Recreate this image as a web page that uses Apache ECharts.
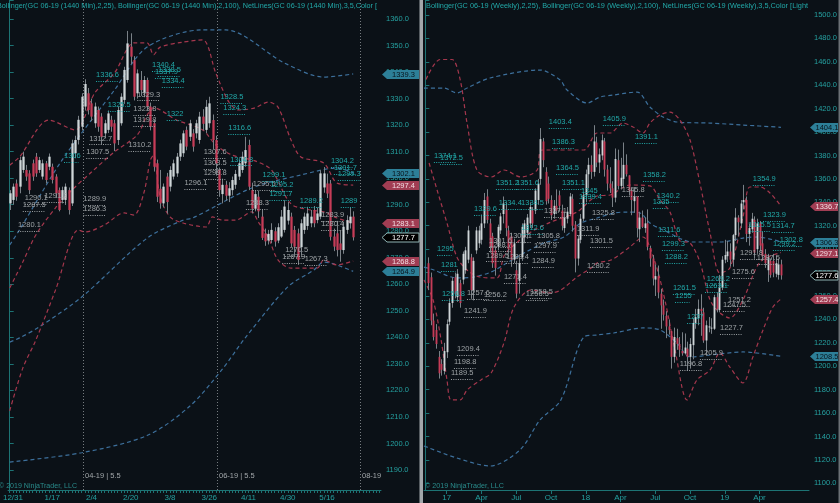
<!DOCTYPE html>
<html><head><meta charset="utf-8">
<script src="https://cdn.jsdelivr.net/npm/echarts/dist/echarts.min.js"></script>
<style>html,body{margin:0;padding:0;background:#0b1117;}#c{width:840px;height:503px;}</style>
</head><body><div id="c"></div>
<script>
// ---------------- DATA ----------------
const leftXLabels = [[1,'12/31'],[13,'1/17'],[25,'2/4'],[37,'2/20'],[49,'3/8'],[61,'3/26'],[73,'4/11'],[85,'4/30'],[97,'5/16']];
const rightXLabels = [[8,'17'],[21,'Apr'],[34,'Jul'],[47,'Oct'],[60,'18'],[73,'Apr'],[86,'Jul'],[99,'Oct'],[112,'19'],[125,'Apr']];
const LEFT_SLOTS = 114, RIGHT_SLOTS = 144;

const leftOpen = [1290.5,1291.8,1298.0,1296.8,1303.1,1303.1,1301.8,1305.6,1308.1,1303.1,1300.6,1305.6,1304.3,1304.3,1300.6,1295.5,1291.8,1291.8,1295.5,1290.5,1309.4,1314.4,1319.4,1327.0,1332.0,1328.2,1320.7,1325.7,1323.2,1316.9,1318.2,1322.0,1320.7,1314.4,1320.7,1329.5,1337.0,1349.6,1344.5,1332.0,1337.0,1332.0,1337.0,1327.0,1320.7,1305.6,1296.0,1290.5,1300.6,1296.8,1300.6,1301.8,1308.1,1309.4,1318.2,1315.6,1316.9,1316.9,1314.4,1323.2,1318.2,1320.7,1321.9,1314.4,1303.1,1294.0,1297.5,1293.4,1295.5,1297.5,1300.6,1303.1,1305.6,1312.5,1295.5,1288.5,1293.0,1285.5,1279.2,1276.5,1276.7,1280.0,1276.5,1278.0,1280.5,1284.0,1285.5,1280.5,1279.2,1274.0,1280.5,1282.0,1283.0,1288.0,1284.2,1285.5,1296.5,1298.0,1298.0,1278.0,1279.2,1275.4,1272.9,1280.5,1283.0,1285.5];
const leftHigh = [1295.5,1298.0,1299.5,1308.1,1310.0,1305.0,1303.0,1307.0,1309.5,1308.0,1307.0,1306.5,1309.3,1305.5,1301.5,1296.5,1296.8,1298.0,1296.5,1314.5,1316.0,1323.5,1332.0,1337.3,1334.0,1330.0,1328.5,1327.0,1324.5,1322.0,1325.5,1323.5,1322.0,1327.0,1332.0,1342.0,1355.5,1354.6,1346.0,1341.0,1340.4,1338.5,1337.9,1328.5,1322.0,1307.0,1303.1,1298.0,1302.0,1304.5,1307.0,1309.5,1314.5,1318.0,1319.5,1322.0,1318.5,1322.0,1325.0,1326.0,1329.5,1330.7,1324.0,1316.0,1304.0,1299.8,1299.0,1298.5,1300.6,1303.1,1307.0,1310.0,1315.6,1314.5,1298.3,1295.5,1295.2,1288.0,1281.0,1280.5,1283.0,1281.5,1283.0,1288.0,1291.7,1291.0,1287.0,1282.0,1281.0,1284.5,1287.0,1289.2,1288.0,1289.5,1289.0,1303.0,1304.2,1301.7,1299.3,1281.0,1283.9,1280.4,1283.5,1286.0,1289.0,1287.5];
const leftLow = [1288.0,1290.0,1291.5,1294.3,1302.0,1299.0,1294.0,1299.0,1300.5,1302.0,1299.5,1298.0,1303.0,1298.0,1292.5,1287.5,1290.5,1289.9,1286.3,1289.5,1307.5,1312.7,1318.0,1325.5,1324.0,1321.5,1319.0,1317.5,1312.7,1315.0,1317.0,1317.5,1310.2,1312.5,1319.8,1328.0,1336.0,1343.0,1329.3,1330.0,1331.0,1330.5,1325.5,1318.0,1302.5,1291.0,1288.5,1289.0,1286.7,1295.0,1299.5,1300.5,1306.5,1308.0,1310.5,1314.0,1310.0,1315.0,1313.0,1318.0,1317.0,1319.0,1311.0,1301.0,1293.0,1290.5,1291.5,1291.0,1293.5,1296.0,1299.3,1302.0,1304.3,1295.5,1286.7,1287.5,1285.0,1276.7,1274.5,1275.0,1275.5,1274.2,1275.5,1277.5,1279.5,1282.5,1274.0,1270.5,1267.3,1271.0,1279.0,1280.5,1281.5,1281.5,1283.0,1284.5,1294.5,1292.5,1276.5,1272.5,1270.5,1268.5,1271.5,1279.0,1281.0,1276.5];
const leftClose = [1294.3,1296.8,1293.0,1306.8,1308.1,1300.6,1295.5,1300.6,1301.8,1306.8,1305.6,1299.3,1308.1,1299.3,1294.3,1288.0,1295.5,1296.8,1288.0,1313.1,1314.4,1322.0,1330.7,1335.5,1325.7,1323.2,1327.0,1319.4,1315.6,1320.7,1324.4,1319.4,1313.1,1325.7,1330.7,1340.8,1350.8,1345.8,1330.7,1339.5,1333.2,1337.0,1327.0,1319.4,1304.3,1293.0,1290.5,1296.8,1291.0,1303.1,1305.6,1308.1,1313.1,1316.9,1311.9,1320.7,1311.9,1320.7,1323.2,1320.5,1326.9,1328.2,1314.4,1305.6,1295.5,1297.5,1293.4,1296.2,1299.3,1301.6,1305.6,1308.1,1310.6,1296.8,1288.5,1294.0,1287.5,1277.5,1276.2,1279.0,1280.5,1276.1,1281.5,1285.5,1289.3,1288.0,1275.4,1274.2,1269.2,1283.0,1285.5,1286.7,1285.5,1283.0,1286.7,1301.8,1301.8,1294.2,1277.9,1274.2,1272.9,1273.0,1281.7,1284.2,1285.5,1277.7];

// Bollinger bands of the daily chart, read as [bar, value]
const leftUpper25 = [[0,1304.9],[3,1308.0],[12,1321.9],[20,1318.2],[26,1332.1],[32,1339.6],[38,1351.0],[42,1351.0],[44,1346.5],[46,1349.4],[53,1351.3],[59,1352.1],[63,1339.6],[67,1328.7],[70,1325.7],[75,1326.5],[79,1328.7],[82,1326.8],[86,1314.4],[89,1308.0],[96,1305.7],[100,1298.2],[105,1297.4]];
const leftMid25 = [[0,1258.6],[4,1268.4],[8,1278.6],[14,1288.8],[19,1295.5],[25,1302.3],[32,1309.9],[39,1316.3],[42,1323.8],[44,1326.5],[51,1321.9],[59,1318.2],[63,1312.5],[68,1308.7],[75,1306.5],[80,1303.1],[86,1290.3],[92,1288.0],[96,1287.3],[100,1285.0],[105,1283.1]];
const leftLower25 = [[0,1212.3],[4,1228.4],[8,1239.0],[14,1257.8],[21,1280.5],[23,1279.7],[29,1282.4],[35,1286.9],[38,1286.1],[41,1294.4],[43,1306.8],[44,1308.7],[46,1292.9],[49,1285.4],[53,1283.1],[60,1281.6],[62,1285.4],[65,1284.2],[69,1284.2],[74,1287.3],[76,1283.5],[79,1277.8],[82,1269.2],[86,1266.1],[94,1266.1],[96,1269.2],[100,1267.3],[105,1268.8]];
const leftUpper100 = [[0,1274.8],[3,1280.5],[16,1306.8],[32,1333.2],[42,1349.4],[59,1355.9],[66,1355.9],[84,1343.4],[96,1338.1],[105,1339.3]];
const leftMid100 = [[0,1238.2],[3,1239.8],[9,1243.9],[22,1255.2],[42,1277.4],[53,1284.2],[56,1285.0],[74,1296.3],[89,1301.2],[100,1303.8],[105,1302.1]];
const leftLower100 = [[0,1193.0],[22,1196.5],[42,1203.0],[55,1214.0],[65,1228.0],[72,1239.8],[85,1259.0],[93,1265.4],[96,1268.4],[105,1264.9]];

// NetLines swing labels of the daily chart: [bar, level, 1 = swing high / 0 = swing low]
const leftSwings = [[2.5,1280.1,0],[4,1287.5,0],[4.6,1290.1,0],[10.6,1291.2,0],[16.6,1306,1],[22.5,1289.9,0],[22.5,1286.3,0],[23.4,1307.5,0],[24.3,1312.7,0],[26.4,1336.6,1],[30,1325.5,1],[36.3,1310.2,0],[37.8,1323.8,0],[37.8,1319.8,0],[39,1329.3,0],[43.5,1340.4,1],[44.4,1337.9,1],[45.3,1338.5,1],[46.5,1334.4,1],[48,1322,1],[53.4,1296.1,0],[59.3,1307.6,0],[59.3,1303.5,0],[59.3,1299.8,0],[64.4,1328.5,1],[65.3,1324.3,1],[66.8,1316.6,1],[67.4,1304.8,1],[72.2,1288.3,0],[74.3,1295.5,0],[77.3,1299.1,1],[79.7,1295.2,1],[79.4,1291.7,1],[83.3,1267.9,0],[84.2,1270.5,0],[88.7,1289.2,1],[90.2,1267.3,0],[95.2,1283.9,0],[95.2,1280.4,0],[98.2,1304.2,1],[99.1,1301.7,1],[100.3,1299.3,1],[101.2,1289,1]];
const leftRollovers = [[22.54,'04-19 | 5.5'],[63.23,'06-19 | 5.5'],[107.22,'08-19']];

const rightOpen = [null,1288,1276,1239,1231,1208,1202,1196,1212,1238,1254,1276,1259,1271,1274,1282,1291,1293,1265,1299,1305,1308,1322,1345,1322,1311,1299,1302,1316,1330,1334,1316,1311,1291,1282,1273,1293,1310,1314,1322,1333,1333,1342,1360,1392,1366,1356,1342,1330,1337,1346,1333,1318,1326,1330,1343,1321,1292,1308,1326,1346,1364,1372,1366,1391,1374,1380,1392,1368,1356,1352,1344,1376,1354,1360,1372,1363,1350,1341,1345,1317,1327,1318,1322,1301,1292,1274,1277,1262,1252,1243,1234,1230,1208,1224,1219,1213,1211,1215,1208,1218,1237,1241,1249,1246,1222,1234,1233,1232,1259,1248,1267,1291,1294,1298,1291,1312,1327,1322,1340,1342,1313,1317,1325,1300,1322,1305,1296,1282,1290,1290,1279,1278,1287];
const rightHigh = [null,1293,1280,1245,1236,1213,1206,1220,1240,1258,1276,1280,1283,1274,1298,1302,1320,1296,1293,1319,1320,1329.6,1348,1351.2,1326,1314,1302,1321,1331,1345,1340,1320,1314,1309,1290,1292,1322,1325,1330,1340,1336,1352,1360,1403.4,1395,1370,1362,1346,1342,1351.1,1350,1338,1332,1336,1348,1347,1324,1312,1330,1349,1368,1378,1380,1405.9,1396,1386,1398,1395,1372,1370,1358,1386,1385,1378,1391.1,1381,1363,1353,1353,1345,1332,1333,1327,1334,1303,1295,1287,1286,1266,1257,1247,1240,1230,1233,1232,1225,1229,1228,1221,1224,1241,1249,1257,1261.5,1250,1239,1242,1241,1261,1263,1278,1294,1308,1307,1305,1313,1335,1329,1342,1354.9,1345,1322,1331,1328,1326,1324,1314.7,1300,1296,1292,1296,1294,1292,1291];
const rightLow = [null,1265,1235,1222,1215,1189.5,1192,1193,1207,1235,1250,1258,1255,1250,1270,1279,1288,1257.6,1256.2,1296,1301,1304,1318,1322,1297,1284,1277.4,1299,1313,1322,1311,1296,1284.9,1288,1258,1262,1290,1305,1309,1318,1318,1330,1338,1355,1370,1338,1339,1325,1326,1330,1332,1316,1314,1322,1328,1315,1280.2,1286,1305,1324,1340,1352,1360,1362,1370,1365,1376,1362,1350,1348,1336,1340,1351,1351,1353,1362,1345.8,1329,1331,1310,1306,1318,1314,1299,1285,1269,1260,1258,1232,1239,1224,1227,1198,1203,1214,1208,1209,1210,1196,1198,1205.9,1232,1235,1226,1220,1209,1229,1227.7,1231,1246,1246,1265,1288,1289,1285,1285,1307,1311,1318,1334,1306,1303,1314,1291.8,1296,1298,1290,1284,1272,1275.6,1276,1276,1274,1274];
const rightClose = [null,1271,1239,1225,1219,1194,1197,1213,1236,1254,1273,1262,1279,1254,1296,1299,1316,1265,1290,1316,1316,1322,1342,1325,1302,1288,1284,1319,1328,1339,1318,1300,1291,1305,1262,1288,1319,1322,1327,1336,1322,1350,1356,1394,1376,1341,1343,1329,1337,1333,1337,1320,1327,1332,1345,1320,1292,1309,1326,1346,1364,1372,1366,1392,1374,1381,1393,1368,1356,1352,1344,1377,1354,1361,1372,1364,1350,1342,1345,1318,1327,1319,1322,1302,1292,1275,1277,1263,1252,1244,1234,1231,1208,1225,1219,1214,1211,1216,1208,1219,1237,1242,1249,1247,1222,1235,1234,1233,1259,1249,1267,1291,1295,1298,1291,1312,1327,1323,1339,1342,1313,1318,1326,1297,1322,1303,1294,1288,1293,1278,1280,1288,1287,1277.6];

// Bollinger bands of the weekly chart, read as [bar, value]
const rightUpper25 = [[0.25,1445],[5.5,1462],[10,1462],[13,1445],[15.6,1407.7],[19.3,1367.6],[24.6,1361.6],[29.4,1367.6],[35.8,1361.6],[41.8,1367.6],[43.6,1384.7],[59.3,1384.7],[64.2,1399.2],[69.1,1399.2],[73.9,1407.7],[77.7,1404.3],[81.4,1399.2],[84,1407.7],[87.8,1414.6],[91.5,1417.1],[95.2,1410.3],[99,1393.2],[102.7,1356.5],[106.5,1313.8],[110.2,1279.6],[113.9,1283.9],[118.8,1327.5],[121.4,1353.1],[125.2,1353.1],[128.9,1348.0],[133,1336.7]];
const rightMid25 = [[1.4,1373.6],[4.4,1350.5],[8.1,1322.3],[11.8,1293.3],[15.6,1282.2],[20.4,1276.2],[26.8,1275.4],[29.4,1294.2],[33.2,1303.6],[39.5,1314.7],[47,1323.2],[56.7,1331.7],[64.2,1345.4],[69.1,1346.3],[76.5,1354.8],[84,1354.0],[87.8,1342.0],[91.5,1331.7],[95.2,1307.0],[99,1305.3],[102.7,1289.0],[106.5,1256.6],[110.2,1245.5],[113.9,1241.2],[118.8,1256.6],[125.2,1289.0],[133,1297.1]];
const rightLower25 = [[-0.5,1273.7],[2.9,1256.6],[5.9,1222.4],[8.1,1188.3],[9.6,1171.2],[13,1171.2],[15.6,1179.7],[20.8,1188.3],[24.6,1194.2],[29.4,1219.9],[33.2,1250.6],[39.5,1265.1],[47,1262.6],[50.7,1265.1],[56.7,1276.2],[62,1283.9],[64.2,1288.2],[69.4,1290.7],[76.5,1301.8],[81.4,1310.4],[85.9,1289.0],[89.6,1256.6],[93.4,1213.9],[97.9,1171.2],[101.6,1188.3],[106.5,1196.8],[110.2,1211.3],[113.9,1199.3],[118.8,1185.7],[122.5,1207.9],[126.3,1231.0],[130,1250.6],[133,1257.4]];
const rightUpper100 = [[-0.5,1437.6],[7,1437.6],[11.8,1433.4],[15.6,1437.6],[24.2,1446.2],[42.9,1453.0],[50.4,1444.5],[53,1435.9],[60.5,1424.8],[65.3,1429.9],[70.5,1431.7],[79.2,1434.2],[84,1421.4],[88.9,1412.9],[94.1,1408.6],[106.5,1407.7],[118.8,1406.0],[133,1404.1]];
const rightMid100 = [[-0.5,1284.7],[3.2,1282.2],[11.8,1275.4],[18.2,1276.2],[24.6,1280.5],[30.5,1288.2],[36.9,1296.7],[44.4,1305.3],[51.9,1310.4],[58.2,1322.3],[64.2,1326.6],[70.6,1330.9],[75.4,1331.7],[80.3,1330.9],[84,1322.3],[88.9,1316.4],[100.1,1306.1],[110.2,1306.1],[118.8,1309.5],[124,1310.4],[133,1306.3]];
const rightLower100 = [[-0.5,1131.9],[11.8,1121.6],[24.2,1114.8],[35.4,1128.5],[42.9,1154.1],[50.7,1171.2],[59.3,1225.0],[64.2,1226.7],[70.5,1228.4],[81.4,1232.7],[87.8,1231.0],[94.1,1219.8],[99,1207.9],[106.5,1209.6],[118.8,1212.2],[133,1208.5]];

// NetLines swing labels of the weekly chart
const rightSwings = [[3.2,1374.1,1],[5.5,1372.5,1],[4.4,1295,1],[5.9,1281,1],[6.2,1256.8,1],[9.6,1189.5,0],[10.7,1198.8,0],[11.8,1209.4,0],[14.5,1241.9,0],[15.6,1257.6,0],[21.9,1256.2,0],[18.2,1329.6,1],[26.4,1351.2,1],[33.9,1351.6,1],[27.5,1334.4,1],[35.8,1334.5,1],[23.8,1301.6,0],[23.8,1298.7,0],[31.3,1306.1,0],[35.8,1312.6,1],[22.7,1289.5,0],[30.2,1288.4,0],[39.9,1284.9,0],[29.4,1271.4,0],[37.6,1256.5,0],[39.1,1258.5,0],[46.2,1403.4,1],[47.4,1386.3,1],[48.9,1364.5,1],[51.1,1351.1,1],[58.2,1345,1],[57.5,1339.4,1],[62.3,1325.8,0],[44.4,1327.1,0],[41.8,1305.8,0],[40.6,1297.9,0],[56.7,1311.9,0],[61.6,1301.5,0],[60.5,1280.2,0],[66.4,1405.9,1],[78.4,1391.1,1],[81.4,1358.2,1],[73.5,1345.8,0],[86.6,1340.2,1],[85.1,1335,1],[87,1311.6,1],[88.5,1299.3,1],[89.6,1288.2,1],[92.6,1261.5,1],[93.4,1255,1],[97.9,1237,1],[105.3,1269.2,1],[104.6,1263.1,1],[113.2,1251.2,0],[111.3,1247.5,0],[110.2,1227.7,0],[102.7,1205.9,0],[95.2,1196.8,0],[122.5,1354.9,1],[126.3,1323.9,1],[120.7,1315.5,1],[129.6,1314.7,1],[117.7,1291.8,0],[124,1287.5,0],[114.7,1275.6,0],[130,1299.2,1],[132.6,1302.8,1]];

const leftHeader = 'Bollinger(GC 06-19 (1440 Min),2,25), Bollinger(GC 06-19 (1440 Min),2,100), NetLines(GC 06-19 (1440 Min),3,5,Color [';
const rightHeader = 'Bollinger(GC 06-19 (Weekly),2,25), Bollinger(GC 06-19 (Weekly),2,100), NetLines(GC 06-19 (Weekly),3,5,Color [Light';
const copyright = '\u00a9 2019 NinjaTrader, LLC';

// ---------------- STYLE ----------------
const BG = '#0b1117';
const FONT = '"Liberation Sans", Arial, sans-serif';
const FS = 7.5;
const AXIS = '#1d7374', LBL = '#25a0a0', TEAL = '#22a9a9', GREY = '#9ea3a6';
const UP = '#cfd6d8', DN = '#c63c57', WICK = '#7a8187';
const RED = '#a5374d', BLUE = '#3d709c';
const BOXB = '#2d7f98', BOXR = '#a13d53';

const LMIN = 1182.46, LMAX = 1367.16;
const RMIN = 1094.3, RMAX = 1512.81;

const measureCtx = document.createElement('canvas').getContext('2d');
function fitScale(text, font, target){ measureCtx.font = font; return target / measureCtx.measureText(text).width; }

function cats(n, labels){ const a = new Array(n).fill(''); labels.forEach(l => a[l[0]] = l[1]); return a; }
function fmtSwing(v){ return Number.isInteger(v) ? String(v) : v.toFixed(1); }
function candles(o,h,l,c){ const d=[]; o.forEach((v,i)=>{ if(v!=null) d.push([i,v,c[i],l[i],h[i]]); }); return d; }

function candleItem(params, api){
  const i = api.value(0), o = api.value(1), c = api.value(2), lo = api.value(3), hi = api.value(4);
  const po = api.coord([i,o]), pc = api.coord([i,c]), pl = api.coord([i,lo]), ph = api.coord([i,hi]);
  const slot = api.size([1,0])[0];
  const bw = Math.max(1.6, slot*0.7);
  const x = Math.round(po[0]) + 0.5;
  const top = Math.min(po[1],pc[1]), bot = Math.max(po[1],pc[1]);
  return {type:'group', children:[
    {type:'line', shape:{x1:x,y1:ph[1],x2:x,y2:pl[1]}, style:{stroke:WICK, lineWidth:1}},
    {type:'rect', shape:{x:x-bw/2, y:top, width:bw, height:Math.max(1,bot-top)}, style:{fill: c>=o?UP:DN}}
  ]};
}
function swingItem(params, api){
  const v = api.value(1), k = api.value(2);
  const p = api.coord([api.value(0), v]);
  const t = fmtSwing(v), col = k===1 ? TEAL : GREY;
  const w = t.length*3.6;
  return {type:'group', children:[
    {type:'text', style:{x:p[0], y:p[1]-2, text:t, fill:col, font:FS+'px '+FONT, verticalAlign:'bottom'}},
    {type:'line', shape:{x1:p[0], y1:Math.round(p[1])+0.5, x2:p[0]+w, y2:Math.round(p[1])+0.5}, style:{stroke:col, lineWidth:1, lineDash:[1,1.3]}}
  ]};
}
function markerItem(params, api){
  const v = api.value(1), k = api.value(2);
  const y = Math.round(api.coord([0, v])[1]) + 0.5;
  const cs = params.coordSys; const ax = cs.x + cs.width;
  const fills = [BOXB, BOXR, '#000000'], txt = ['#08141c', '#f3dde3', '#ffffff'], strokes = [BOXB, BOXR, '#8fb3b3'];
  const L = ax+1, B = ax+6, R = Math.min(ax+38, 838), hh = 4.5;
  return {type:'group', children:[
    {type:'polygon', shape:{points:[[L,y],[B,y-hh],[R,y-hh],[R,y+hh],[B,y+hh]]}, style:{fill:fills[k], stroke:strokes[k], lineWidth:k===2?1:0}},
    {type:'text', style:{x:(B+R)/2+0.5, y:y, text:v.toFixed(1), fill:txt[k], font:FS+'px '+FONT, align:'center', verticalAlign:'middle'}}
  ]};
}
function band(data, color, xi, yi){
  return {type:'line', xAxisIndex:xi, yAxisIndex:yi, data:data, showSymbol:false, symbol:'none', smooth:0.3,
    lineStyle:{color:color, width:1.2, type:[4,3]}, silent:true, z:2};
}
function yAxisCfg(gi, min, max, step, n){
  return {type:'value', gridIndex:gi, position:'right', min:min, max:max, minInterval:step, maxInterval:step, splitNumber:n,
    axisLine:{show:true, lineStyle:{color:AXIS, width:1}}, axisTick:{show:true, length:4, lineStyle:{color:AXIS}},
    splitLine:{show:false},
    axisLabel:{color:LBL, fontSize:FS, fontFamily:FONT, margin:5, showMinLabel:true, showMaxLabel:true,
      formatter:v => Math.abs(v/step - Math.round(v/step)) < 1e-6 ? v.toFixed(1) : ''}};
}
function xCatCfg(gi, data, allTicks){
  return {type:'category', gridIndex:gi, data:data, boundaryGap:true,
    axisLine:{show:true, lineStyle:{color:AXIS}},
    axisTick:{show:true, alignWithLabel:true, length:allTicks?3:4, interval: allTicks ? 0 : ((i,v)=>v!==''), lineStyle:{color:AXIS}},
    axisLabel:{interval:0, color:LBL, fontSize:FS+0.5, fontFamily:FONT, margin:4, hideOverlap:false},
    splitLine:{show:false}};
}
function markers(u25,m25,l25,u100,m100,l100,close){
  const last = a => a[a.length-1][1];
  return [[0,last(u100),0],[0,last(m100),0],[0,last(l100),0],[0,last(u25),1],[0,last(m25),1],[0,last(l25),1],[0,close[close.length-1],2]];
}

const HF = '8px ' + FONT;
const chart = echarts.init(document.getElementById('c'), null, {renderer:'canvas'});
const option = {
  backgroundColor: BG,
  animation:false,
  grid:[{left:0, right:459, top:0, bottom:13}, {left:424, right:31, top:0, bottom:13}],
  xAxis:[
    xCatCfg(0, cats(LEFT_SLOTS, leftXLabels), true),
    {type:'value', gridIndex:0, min:-0.5, max:LEFT_SLOTS-0.5, show:false},
    xCatCfg(1, cats(RIGHT_SLOTS, rightXLabels), false),
    {type:'value', gridIndex:1, min:-0.5, max:RIGHT_SLOTS-0.5, show:false}
  ],
  yAxis:[ yAxisCfg(0, LMIN, LMAX, 10, 18), yAxisCfg(1, RMIN, RMAX, 20, 21) ],
  graphic:[
    {type:'text', x:-3, y:1.5, scaleX:fitScale(leftHeader, HF, 380), style:{text:leftHeader, fill:TEAL, font:HF}, z:20},
    {type:'text', x:426, y:1.5, scaleX:fitScale(rightHeader, HF, 382), style:{text:rightHeader, fill:TEAL, font:HF}, z:20},
    {type:'text', x:-1, y:481.5, scaleX:fitScale(copyright, HF, 78), style:{text:copyright, fill:'#2a8c8c', font:HF}, z:20},
    {type:'text', x:425, y:481.5, scaleX:fitScale(copyright, HF, 79), style:{text:copyright, fill:'#2a8c8c', font:HF}, z:20},
    {type:'rect', shape:{x:419.5, y:0, width:3.5, height:503}, style:{fill:'#a2a7ab'}, z:30},
    {type:'rect', shape:{x:838.5, y:0, width:1.5, height:503}, style:{fill:'#6b7075'}, z:30}
  ],
  series:[
    {type:'custom', xAxisIndex:1, yAxisIndex:0, data:leftRollovers.map(r=>[r[0]]), z:1, silent:true,
      renderItem:(params, api)=>{ const x = Math.round(api.coord([api.value(0), LMIN])[0])+0.5; const cs = params.coordSys;
        return {type:'group', children:[
          {type:'line', shape:{x1:x,y1:cs.y,x2:x,y2:cs.y+cs.height}, style:{stroke:'#767c80', lineWidth:1, lineDash:[1,2]}},
          {type:'text', style:{x:x+1.5, y:cs.y+cs.height-14.5, text:leftRollovers[params.dataIndex][1], fill:'#a2a7aa', font:FS+'px '+FONT, verticalAlign:'middle'}}
        ]}; }},
    band(leftUpper100, BLUE, 1, 0), band(leftMid100, BLUE, 1, 0), band(leftLower100, BLUE, 1, 0),
    band(leftUpper25, RED, 1, 0), band(leftMid25, RED, 1, 0), band(leftLower25, RED, 1, 0),
    {type:'custom', xAxisIndex:1, yAxisIndex:0, data:candles(leftOpen,leftHigh,leftLow,leftClose), renderItem:candleItem, z:3, silent:true},
    {type:'custom', xAxisIndex:1, yAxisIndex:0, data:leftSwings, renderItem:swingItem, z:4, silent:true, clip:false},
    {type:'custom', xAxisIndex:1, yAxisIndex:0, data:markers(leftUpper25,leftMid25,leftLower25,leftUpper100,leftMid100,leftLower100,leftClose), renderItem:markerItem, z:10, silent:true, clip:false},

    band(rightUpper100, BLUE, 3, 1), band(rightMid100, BLUE, 3, 1), band(rightLower100, BLUE, 3, 1),
    band(rightUpper25, RED, 3, 1), band(rightMid25, RED, 3, 1), band(rightLower25, RED, 3, 1),
    {type:'custom', xAxisIndex:3, yAxisIndex:1, data:candles(rightOpen,rightHigh,rightLow,rightClose), renderItem:candleItem, z:3, silent:true},
    {type:'custom', xAxisIndex:3, yAxisIndex:1, data:rightSwings, renderItem:swingItem, z:4, silent:true, clip:false},
    {type:'custom', xAxisIndex:3, yAxisIndex:1, data:markers(rightUpper25,rightMid25,rightLower25,rightUpper100,rightMid100,rightLower100,rightClose.filter(v=>v!=null)), renderItem:markerItem, z:10, silent:true, clip:false}
  ]
};
chart.setOption(option);
</script></body></html>
